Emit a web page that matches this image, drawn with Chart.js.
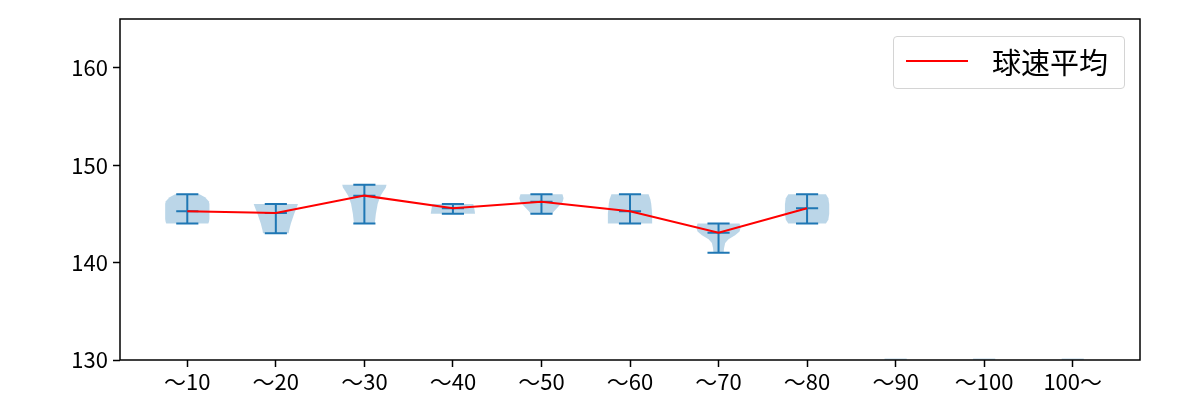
<!DOCTYPE html>
<html>
<head>
<meta charset="utf-8">
<script src="https://cdn.jsdelivr.net/npm/chart.js@4/dist/chart.umd.min.js"></script>
<style>
  body { margin: 0; background: #fff; }
  #wrap { position: relative; width: 1200px; height: 400px; }
  #legend {
    position: absolute; left: 893px; top: 36px; width: 230px; height: 51px;
    border: 1px solid #d4d4d4; border-radius: 4px; background: #fff;
    font-family: "Noto Sans CJK JP", sans-serif; font-size: 29px; color: #000;
  }
  #legend .swatch { position: absolute; left: 12px; top: 23px; width: 62px; height: 2px; background: red; }
  #legend .label { position: absolute; left: 98px; top: 0; line-height: 49px; }
</style>
</head>
<body>
<div id="wrap">
  <canvas id="chart" width="1200" height="400"></canvas>
  <div id="legend"><div class="swatch"></div><div class="label">球速平均</div></div>
</div>
<script>
const categories = ["～10", "～20", "～30", "～40", "～50", "～60", "～70", "～80", "～90", "～100", "100～"];
const meanSpeed = [145.26, 145.08, 146.87, 145.57, 146.25, 145.26, 143.06, 145.57, null, null, null];
const minSpeed = [144, 143, 144, 145, 145, 144, 141, 144, null, null, null];
const maxSpeed = [147, 146, 148, 146, 147, 147, 144, 147, null, null, null];
const yTicks = [130, 140, 150, 160];

// violin outline: speed levels and relative half widths (1 = widest)
const violinLevels = [
  [144, 144.2, 144.5, 145, 146, 146.3, 146.7, 147],
  [143, 143.3, 144, 145, 145.7, 146],
  [144, 145, 146, 146.8, 147.3, 147.7, 148],
  [145, 145.5, 146],
  [145, 145.3, 145.7, 146.2, 146.6, 147],
  [144, 145, 146, 146.5, 147],
  [141, 141.5, 142, 142.4, 142.8, 143.2, 143.6, 144],
  [144, 144.4, 145, 146, 146.6, 147],
  [130, 130.15],
  [130, 130.15],
  [130, 130.15]
];
const violinWidths = [
  [0.95, 0.98, 1.0, 1.0, 1.0, 0.97, 0.8, 0.55],
  [0.58, 0.6, 0.68, 0.83, 0.95, 1.0],
  [0.47, 0.52, 0.6, 0.72, 0.85, 0.97, 1.0],
  [1.0, 0.97, 0.92],
  [0.48, 0.58, 0.75, 0.95, 1.0, 0.95],
  [1.0, 1.0, 0.96, 0.92, 0.84],
  [0.23, 0.25, 0.3, 0.45, 0.75, 0.95, 1.0, 0.95],
  [0.85, 0.96, 1.0, 1.0, 0.96, 0.85],
  [0.5, 0.5],
  [0.5, 0.5],
  [0.5, 0.5]
];

const violinPlugin = {
  id: "violins",
  beforeDatasetsDraw(chart) {
    const { ctx, chartArea, scales: { x, y } } = chart;
    ctx.save();
    ctx.beginPath();
    ctx.rect(chartArea.left, chartArea.top, chartArea.width, chartArea.height);
    ctx.clip();

    ctx.fillStyle = "rgba(31,119,180,0.3)";
    violinLevels.forEach((levels, i) => {
      const pos = i + 1;
      const widths = violinWidths[i];
      ctx.beginPath();
      levels.forEach((lv, k) => {
        const px = x.getPixelForValue(pos + widths[k] * 0.25);
        const py = y.getPixelForValue(lv);
        if (k === 0) ctx.moveTo(px, py); else ctx.lineTo(px, py);
      });
      for (let k = levels.length - 1; k >= 0; k--) {
        ctx.lineTo(x.getPixelForValue(pos - widths[k] * 0.25), y.getPixelForValue(levels[k]));
      }
      ctx.closePath();
      ctx.fill();
    });

    ctx.strokeStyle = "#1f77b4";
    ctx.lineWidth = 2;
    minSpeed.forEach((lo, i) => {
      if (lo === null) return;
      const pos = i + 1;
      const cx = x.getPixelForValue(pos);
      const l = x.getPixelForValue(pos - 0.125);
      const r = x.getPixelForValue(pos + 0.125);
      const yLo = y.getPixelForValue(lo);
      const yHi = y.getPixelForValue(maxSpeed[i]);
      const yMean = y.getPixelForValue(meanSpeed[i]);
      ctx.beginPath();
      ctx.moveTo(cx, yLo); ctx.lineTo(cx, yHi);
      ctx.moveTo(l, yLo); ctx.lineTo(r, yLo);
      ctx.moveTo(l, yHi); ctx.lineTo(r, yHi);
      ctx.moveTo(l, yMean); ctx.lineTo(r, yMean);
      ctx.stroke();
    });
    ctx.restore();
  },
  afterDraw(chart) {
    const { ctx, chartArea } = chart;
    ctx.save();
    ctx.strokeStyle = "#000";
    ctx.lineWidth = 1.5;
    ctx.strokeRect(chartArea.left, chartArea.top, chartArea.width, chartArea.height);
    ctx.restore();
  }
};

const tickFont = { family: "'Noto Sans CJK JP', sans-serif", size: 22 };

new Chart(document.getElementById("chart").getContext("2d"), {
  type: "line",
  data: {
    datasets: [{
      label: "球速平均",
      data: meanSpeed.map((v, i) => ({ x: i + 1, y: v })),
      borderColor: "red",
      borderWidth: 2,
      pointRadius: 0,
      tension: 0,
      fill: false
    }]
  },
  options: {
    responsive: false,
    animation: false,
    layout: { padding: { top: 19, right: 60, left: 0, bottom: 0 } },
    plugins: { legend: { display: false }, tooltip: { enabled: false } },
    scales: {
      x: {
        type: "linear",
        min: 0.24,
        max: 11.76,
        afterBuildTicks: (axis) => { axis.ticks = categories.map((c, i) => ({ value: i + 1 })); },
        afterFit: (axis) => { axis.height = 40; },
        ticks: {
          autoSkip: false,
          maxRotation: 0,
          padding: 1,
          color: "#000",
          font: tickFont,
          callback: (value) => categories[Math.round(value) - 1]
        },
        grid: { drawOnChartArea: false, tickLength: 7, tickColor: "#000", tickWidth: 1.5 },
        border: { display: false }
      },
      y: {
        min: 130,
        max: 165,
        afterBuildTicks: (axis) => { axis.ticks = yTicks.map((v) => ({ value: v })); },
        afterFit: (axis) => { axis.width = 120; },
        ticks: { padding: 5, color: "#000", font: tickFont },
        grid: { drawOnChartArea: false, tickLength: 7, tickColor: "#000", tickWidth: 1.5 },
        border: { display: false }
      }
    }
  },
  plugins: [violinPlugin]
});
</script>
</body>
</html>
